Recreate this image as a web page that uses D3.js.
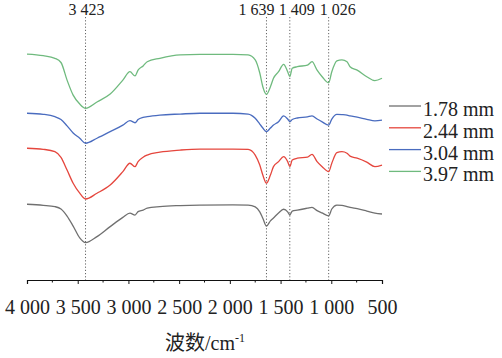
<!DOCTYPE html>
<html><head><meta charset="utf-8">
<script src="https://cdn.jsdelivr.net/npm/d3@7"></script>
<style>
html,body{margin:0;padding:0;background:#fff;}
svg{display:block;}
</style></head><body>
<svg id="chart" width="502" height="358"></svg>
<script>
// Wavenumbers (cm^-1) at which each spectrum was read
const wavenumbers = [4000,3840,3725,3665,3605,3545,3480,3423,3310,3180,3055,2985,2935,2905,2855,2815,2690,2490,2295,1970,1820,1750,1705,1675,1639,1600,1570,1520,1470,1430,1409,1385,1335,1235,1190,1140,1090,1026,995,945,895,845,815,745,650,570,500];
// Transmittance (arbitrary, stacked) for each particle size
const s178 = [28.8,28.4,27.9,27.0,24.3,20.5,16.0,14.2,16.5,20.3,23.8,25.4,24.7,26.0,26.6,27.3,27.9,28.3,28.5,28.6,28.5,27.8,25.9,23.5,20.5,22.5,23.6,25.5,26.9,25.9,24.7,26.2,26.6,27.3,27.6,26.4,25.5,24.4,27.0,28.5,28.4,27.9,27.6,27.1,26.2,25.4,25.1];
const s244 = [50.1,49.7,48.8,46.6,41.8,36.8,33.0,30.8,33.0,36.1,41.2,44.4,43.1,45.0,46.7,47.5,48.6,49.4,49.8,49.8,49.7,47.5,43.7,39.9,36.8,39.9,43.1,45.0,46.9,45.0,43.1,45.6,46.3,46.7,47.8,45.0,43.1,41.2,44.4,48.4,48.8,48.2,47.1,46.3,44.8,43.1,43.7];
const s304 = [63.4,63.0,62.1,61.0,58.6,55.9,53.9,52.0,53.9,56.4,58.9,60.6,59.8,61.0,61.8,62.1,62.7,63.1,63.4,63.4,63.1,61.5,59.3,57.8,56.4,57.8,58.9,60.2,62.4,61.2,60.2,61.0,61.6,62.0,62.4,61.2,60.1,58.9,61.2,63.0,62.9,62.7,62.4,61.9,61.1,60.5,60.8];
const s397 = [85.9,85.3,84.3,82.7,76.0,70.3,66.9,65.3,67.7,70.7,76.0,79.2,77.6,79.8,81.4,83.0,84.3,85.6,85.8,85.8,85.6,83.7,78.7,73.5,70.6,73.5,76.7,79.2,82.0,79.2,77.3,80.5,81.1,81.7,83.0,79.8,77.3,75.0,79.2,83.3,83.7,83.0,81.1,79.8,77.3,75.8,76.7];
const seriesNames = ["1.78 mm","2.44 mm","3.04 mm","3.97 mm"];
const seriesColors = ["#707070","#e5463d","#4a6cbf","#6fba7e"];
const peakMarks = [3423,1639,1409,1026];
const peakLabels = ["3 423","1 639","1 409","1 026"];
const xTicks = [4000,3500,3000,2500,2000,1500,1000,500];
const xTickLabels = ["4 000","3 500","3 000","2 500","2 000","1 500","1 000","500"];
const xTitle = "波数";
const xUnit = "/cm";
const xTitleSup = "-1";

const SERIF = "'Liberation Serif', 'Times New Roman', serif";
const seriesValues = [s178,s244,s304,s397];
const svg = d3.select("#chart");
const x = d3.scaleLinear().domain([4000,500]).range([27,382]);
const y = d3.scaleLinear().domain([0,100]).range([280,17]);

// peak marker lines
const labelShift = [1,-10,7,9];
peakMarks.forEach((p,i)=>{
  svg.append("line").attr("x1",x(p)).attr("x2",x(p)).attr("y1",17).attr("y2",280)
    .attr("stroke","#555").attr("stroke-width",0.9).attr("stroke-dasharray","1.2,2");
  svg.append("text").attr("x",x(p)+labelShift[i]).attr("y",14.5).attr("text-anchor","middle")
    .style("font-family",SERIF).attr("font-size",16).attr("fill","#222").text(peakLabels[i]);
});

// lines
const line = d3.line().x((d,i)=>x(wavenumbers[i])).y(d=>y(d)).curve(d3.curveMonotoneX);
seriesValues.forEach((vals,i)=>{
  svg.append("path").datum(vals).attr("d",line).attr("fill","none")
    .attr("stroke",seriesColors[i]).attr("stroke-width",1.3);
});

// axis
const axis = d3.axisBottom(x).tickValues(xTicks).tickSize(4).tickFormat((d,i)=>xTickLabels[i]);
const gx = svg.append("g").attr("transform","translate(0,280)").call(axis);
gx.attr("font-family",null);
gx.select(".domain").attr("stroke","#111").attr("stroke-width",1.2);
gx.selectAll(".tick line").attr("stroke","#111");
gx.selectAll(".tick text").style("font-family",SERIF).attr("font-size",20).attr("fill","#222").attr("dy",0).attr("y",33.5);
const minor = d3.range(3750,500,-500);
gx.selectAll(".minor").data(minor).enter().append("line").attr("class","minor")
  .attr("x1",d=>x(d)).attr("x2",d=>x(d)).attr("y1",0).attr("y2",2.5).attr("stroke","#111");

// x title
const t = svg.append("text").attr("x",205).attr("y",350).attr("text-anchor","middle").attr("font-size",20)
  .style("font-family",SERIF).attr("fill","#222");
t.append("tspan").style("font-family","'Noto Sans CJK SC'").text(xTitle);
t.append("tspan").text(xUnit);
t.append("tspan").attr("font-size",12).attr("dy",-8).text(xTitleSup);

// legend
seriesNames.forEach((n,i)=>{
  const yy = 106 + i*21.8;
  svg.append("line").attr("x1",389).attr("x2",421).attr("y1",yy).attr("y2",yy)
    .attr("stroke",seriesColors[i]).attr("stroke-width",1.3);
  svg.append("text").attr("x",423).attr("y",yy+10).attr("font-size",20).attr("fill","#222")
    .style("font-family",SERIF).text(n);
});
</script>
</body></html>
